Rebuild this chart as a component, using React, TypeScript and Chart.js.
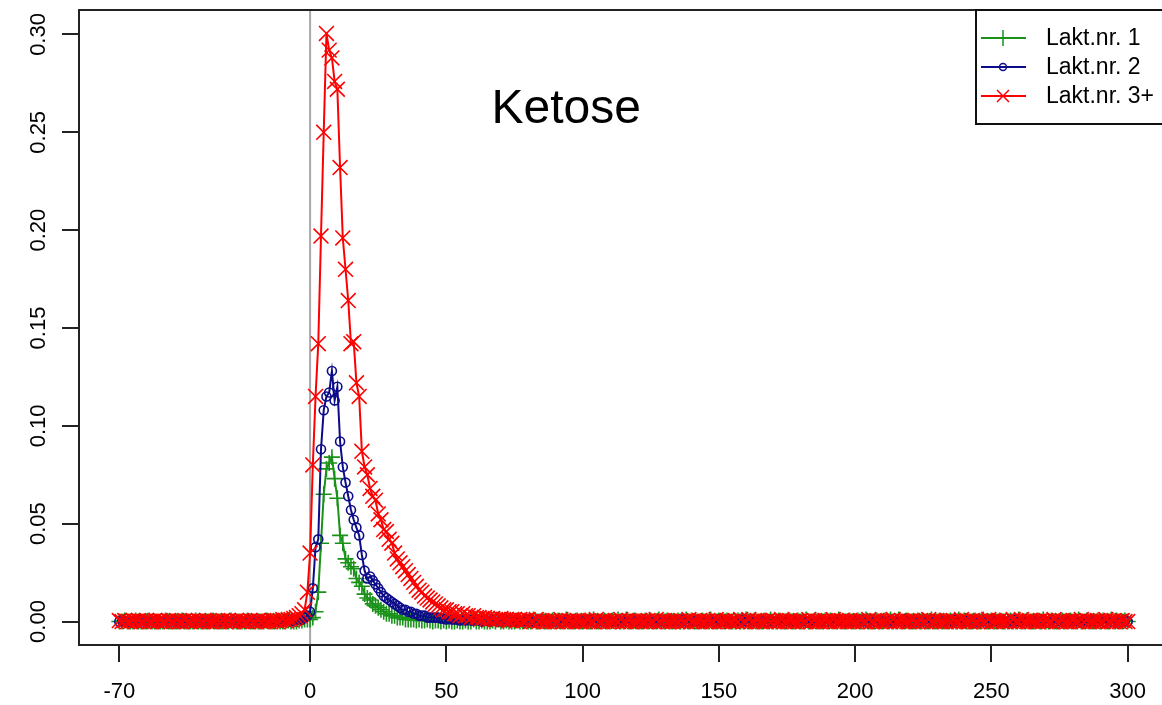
import { useEffect, useRef } from "react";
import { Chart, registerables } from "chart.js";

Chart.register(...registerables);

// ---- data ----
const firstDay = -70; // first day of the series (one value per day)
const xTicks = [-70, 0, 50, 100, 150, 200, 250, 300];
const yTicks = [0, 0.05, 0.1, 0.15, 0.2, 0.25, 0.3];
const seriesLabels = ["Lakt.nr. 1", "Lakt.nr. 2", "Lakt.nr. 3+"];
const titleText = "Ketose";

// Lakt.nr. 1 : days -70..-1, 0..35, 36..300
const lakt1Pre = [
  0, 0, 0.0005, 0, 0, 0, 0.0005, 0, 0, 0, 0, 0.0005, 0, 0, 0, 0, 0, 0.0005, 0, 0,
  0, 0, 0, 0.0005, 0, 0, 0, 0, 0.0005, 0, 0, 0, 0, 0, 0.0005, 0, 0, 0, 0, 0,
  0, 0.0005, 0, 0, 0, 0, 0, 0.0005, 0, 0, 0, 0, 0, 0, 0.0005, 0, 0, 0, 0, 0,
  0, 0, 0.0005, 0, 0, 0, 0.0005, 0.0005, 0.001, 0.001,
];
const lakt1Peak = [
  0.001, 0.002, 0.005, 0.015, 0.04, 0.065, 0.078, 0.081, 0.084, 0.073,
  0.063, 0.044, 0.04, 0.032, 0.03, 0.028, 0.027, 0.022, 0.02, 0.018,
  0.014, 0.012, 0.011, 0.009, 0.008, 0.007, 0.006, 0.005, 0.004, 0.004,
  0.003, 0.003, 0.002, 0.002, 0.002, 0.001,
];
const lakt1Post = [
  0.001, 0.001, 0.001, 0.0005, 0.001, 0.0005, 0.0005, 0.001, 0.0005, 0, 0.0005, 0.0005, 0, 0.0005, 0, 0.0005, 0, 0, 0.0005, 0,
  0, 0.0005, 0, 0, 0.001, 0, 0, 0.0005, 0, 0, 0, 0.0005, 0, 0.001, 0, 0, 0.0005, 0, 0, 0,
  0.0005, 0, 0, 0.0005, 0, 0, 0.001, 0, 0, 0.0005, 0, 0, 0, 0.0005, 0, 0.0005, 0, 0, 0.001, 0,
  0, 0, 0.0005, 0, 0, 0.0005, 0, 0, 0.001, 0, 0, 0, 0.0005, 0, 0, 0.0005, 0, 0.001, 0, 0,
  0.001, 0, 0, 0.0005, 0, 0, 0, 0.0005, 0, 0.0005, 0, 0, 0.001, 0, 0, 0.0005, 0, 0, 0, 0.0005,
  0, 0, 0.001, 0, 0.0005, 0, 0, 0, 0.0005, 0, 0, 0.001, 0, 0, 0.0005, 0, 0, 0.0005, 0, 0,
  0, 0.0005, 0, 0, 0.001, 0, 0, 0.0005, 0, 0, 0, 0.0005, 0, 0.001, 0, 0, 0.0005, 0, 0, 0,
  0.0005, 0, 0, 0.0005, 0, 0, 0.001, 0, 0, 0.0005, 0, 0, 0, 0.0005, 0, 0.0005, 0, 0, 0.001, 0,
  0, 0, 0.0005, 0, 0, 0.0005, 0, 0, 0.001, 0, 0, 0, 0.0005, 0, 0, 0.0005, 0, 0.001, 0, 0,
  0.001, 0, 0, 0.0005, 0, 0, 0, 0.0005, 0, 0.0005, 0, 0, 0.001, 0, 0, 0.0005, 0, 0, 0, 0.0005,
  0, 0, 0.001, 0, 0.0005, 0, 0, 0, 0.0005, 0, 0, 0.001, 0, 0, 0.0005, 0, 0, 0.0005, 0, 0,
  0, 0.0005, 0, 0, 0.001, 0, 0, 0.0005, 0, 0, 0, 0.0005, 0, 0.001, 0, 0, 0.0005, 0, 0, 0,
  0.0005, 0, 0, 0.0005, 0, 0, 0.001, 0, 0, 0.0005, 0, 0, 0, 0.0005, 0, 0.0005, 0, 0, 0.001, 0,
  0.0005, 0, 0, 0.0005, 0,
];

// Lakt.nr. 2 : days -70..-4, -3..45, 46..300
const lakt2Pre = [
  0, 0.0005, 0, 0, 0, 0.0005, 0, 0, 0.001, 0, 0, 0, 0.0005, 0, 0, 0, 0, 0.0005, 0, 0,
  0.0005, 0, 0, 0, 0, 0.001, 0, 0, 0, 0.0005, 0, 0, 0, 0, 0.0005, 0, 0, 0.0005, 0, 0,
  0, 0, 0.0005, 0, 0, 0, 0, 0.001, 0, 0, 0.0005, 0, 0, 0, 0, 0.0005, 0, 0, 0, 0.0005,
  0, 0, 0.0005, 0, 0.0005, 0.001, 0.001,
];
const lakt2Peak = [
  0.001, 0.002, 0.003, 0.005, 0.017, 0.038, 0.042, 0.088, 0.108, 0.115,
  0.117, 0.128, 0.113, 0.12, 0.092, 0.079, 0.071, 0.064, 0.057, 0.052,
  0.048, 0.044, 0.034, 0.026, 0.022, 0.023, 0.021, 0.019, 0.017, 0.015,
  0.013, 0.012, 0.011, 0.01, 0.009, 0.008, 0.007, 0.006, 0.006, 0.005,
  0.005, 0.004, 0.004, 0.003, 0.003, 0.003, 0.002, 0.002, 0.002,
];
const lakt2Post = [
  0.002, 0.002, 0.0015, 0.0015, 0.001, 0.0015, 0.001, 0.001, 0.001, 0.0005, 0.001, 0.0005, 0.001, 0.0005, 0.0005, 0.001, 0.0005, 0, 0.0005, 0.0005,
  0, 0.0005, 0.001, 0, 0.0005, 0, 0.0005, 0, 0.001, 0, 0.0005, 0, 0, 0.0005, 0.001, 0, 0, 0.0005, 0, 0.0005,
  0, 0, 0.0005, 0, 0, 0.0005, 0, 0, 0.001, 0, 0, 0, 0.0005, 0, 0, 0.0005, 0, 0.001, 0, 0,
  0.001, 0, 0, 0.0005, 0, 0, 0, 0.0005, 0, 0.0005, 0, 0, 0.001, 0, 0, 0.0005, 0, 0, 0, 0.0005,
  0, 0, 0.001, 0, 0.0005, 0, 0, 0, 0.0005, 0, 0, 0.001, 0, 0, 0.0005, 0, 0, 0.0005, 0, 0,
  0, 0.0005, 0, 0, 0.001, 0, 0, 0.0005, 0, 0, 0, 0.0005, 0, 0.001, 0, 0, 0.0005, 0, 0, 0,
  0.0005, 0, 0, 0.0005, 0, 0, 0.001, 0, 0, 0.0005, 0, 0, 0, 0.0005, 0, 0.0005, 0, 0, 0.001, 0,
  0, 0, 0.0005, 0, 0, 0.0005, 0, 0, 0.001, 0, 0, 0, 0.0005, 0, 0, 0.0005, 0, 0.001, 0, 0,
  0.001, 0, 0, 0.0005, 0, 0, 0, 0.0005, 0, 0.0005, 0, 0, 0.001, 0, 0, 0.0005, 0, 0, 0, 0.0005,
  0, 0, 0.001, 0, 0.0005, 0, 0, 0, 0.0005, 0, 0, 0.001, 0, 0, 0.0005, 0, 0, 0.0005, 0, 0,
  0, 0.0005, 0, 0, 0.001, 0, 0, 0.0005, 0, 0, 0, 0.0005, 0, 0.001, 0, 0, 0.0005, 0, 0, 0,
  0.0005, 0, 0, 0.0005, 0, 0, 0.001, 0, 0, 0.0005, 0, 0, 0, 0.0005, 0, 0.0005, 0, 0, 0.001, 0,
  0, 0.0005, 0, 0, 0.0005, 0, 0, 0.001, 0, 0, 0.0005, 0, 0, 0.0005, 0,
];

// Lakt.nr. 3+ : days -70..-6, -5..60, 61..300
const lakt3Pre = [
  0.0005, 0, 0.0005, 0, 0, 0.0005, 0, 0.0005, 0, 0, 0.0005, 0, 0, 0.0005, 0, 0.0005, 0, 0, 0.0005, 0,
  0, 0.0005, 0, 0, 0.0005, 0, 0, 0.0005, 0, 0.0005, 0, 0, 0.0005, 0, 0, 0, 0.0005, 0, 0.0005, 0,
  0.0005, 0, 0, 0.0005, 0, 0.0005, 0, 0, 0.0005, 0, 0, 0.0005, 0, 0.0005, 0, 0, 0.0005, 0.0005, 0, 0.0005,
  0.001, 0.0005, 0.001, 0.001, 0.0015,
];
const lakt3Peak = [
  0.002, 0.003, 0.004, 0.006, 0.015, 0.035, 0.08, 0.115, 0.142, 0.197,
  0.25, 0.3005, 0.292, 0.288, 0.276, 0.272, 0.232, 0.196, 0.18, 0.164,
  0.142, 0.143, 0.122, 0.115, 0.087, 0.079, 0.075, 0.068, 0.064, 0.062,
  0.055, 0.052, 0.047, 0.046, 0.042, 0.04, 0.035, 0.032, 0.03, 0.028,
  0.026, 0.024, 0.022, 0.02, 0.018, 0.016, 0.015, 0.013, 0.012, 0.011,
  0.01, 0.009, 0.008, 0.007, 0.006, 0.006, 0.005, 0.005, 0.004, 0.004,
  0.003, 0.004, 0.003, 0.003, 0.002, 0.003,
];
const lakt3Post = [
  0.002, 0.002, 0.0015, 0.002, 0.0015, 0.001, 0.0015, 0.001, 0.001, 0.0015, 0.001, 0.001, 0.0005, 0.001, 0.001, 0.0005, 0.001, 0.0005, 0.0005, 0.001,
  0, 0, 0.001, 0, 0.0005, 0, 0, 0, 0.0005, 0, 0, 0.001, 0, 0, 0.0005, 0, 0, 0.0005, 0, 0,
  0, 0.0005, 0, 0, 0.001, 0, 0, 0.0005, 0, 0, 0, 0.0005, 0, 0.001, 0, 0, 0.0005, 0, 0, 0,
  0.0005, 0, 0, 0.0005, 0, 0, 0.001, 0, 0, 0.0005, 0, 0, 0, 0.0005, 0, 0.0005, 0, 0, 0.001, 0,
  0, 0, 0.0005, 0, 0, 0.0005, 0, 0, 0.001, 0, 0, 0, 0.0005, 0, 0, 0.0005, 0, 0.001, 0, 0,
  0.001, 0, 0, 0.0005, 0, 0, 0, 0.0005, 0, 0.0005, 0, 0, 0.001, 0, 0, 0.0005, 0, 0, 0, 0.0005,
  0, 0, 0.001, 0, 0.0005, 0, 0, 0, 0.0005, 0, 0, 0.001, 0, 0, 0.0005, 0, 0, 0.0005, 0, 0,
  0, 0.0005, 0, 0, 0.001, 0, 0, 0.0005, 0, 0, 0, 0.0005, 0, 0.001, 0, 0, 0.0005, 0, 0, 0,
  0.0005, 0, 0, 0.0005, 0, 0, 0.001, 0, 0, 0.0005, 0, 0, 0, 0.0005, 0, 0.0005, 0, 0, 0.001, 0,
  0, 0, 0.0005, 0, 0, 0.0005, 0, 0, 0.001, 0, 0, 0, 0.0005, 0, 0, 0.0005, 0, 0.001, 0, 0,
  0.001, 0, 0, 0.0005, 0, 0, 0, 0.0005, 0, 0.0005, 0, 0, 0.001, 0, 0, 0.0005, 0, 0, 0, 0.0005,
  0, 0, 0.001, 0, 0.0005, 0, 0, 0, 0.0005, 0, 0, 0.001, 0, 0, 0.0005, 0, 0, 0.0005, 0, 0,
];

const lakt1 = [...lakt1Pre, ...lakt1Peak, ...lakt1Post];
const lakt2 = [...lakt2Pre, ...lakt2Peak, ...lakt2Post];
const lakt3 = [...lakt3Pre, ...lakt3Peak, ...lakt3Post];

// ---- styling ----
const FONT = "'Liberation Sans', Arial, Helvetica, sans-serif";
const COLORS = ["#1a921a", "#0c0c8a", "#ff0000"];
const POINT_STYLES = ["cross", "circle", "crossRot"];
const POINT_RADII = [8, 4.5, 10.5];

export default function App() {
  const ref = useRef<HTMLCanvasElement>(null);

  useEffect(() => {
    const canvas = ref.current;
    if (!canvas) return;

    const series = [lakt1, lakt2, lakt3];
    const datasets = series.map((vals, k) => ({
      label: seriesLabels[k],
      data: vals.map((y, i) => ({ x: firstDay + i, y })),
      borderColor: COLORS[k],
      backgroundColor: "rgba(0,0,0,0)",
      pointBackgroundColor: "rgba(0,0,0,0)",
      pointBorderColor: COLORS[k],
      pointStyle: POINT_STYLES[k],
      pointRadius: POINT_RADII[k],
      pointBorderWidth: 1.6,
      borderWidth: 2,
      tension: 0,
      order: 2 - k,
    }));

    const rPlugin = {
      id: "rstyle",
      beforeDatasetsDraw(chart: any) {
        const { ctx, chartArea: a, scales } = chart;
        const px = scales.x.getPixelForValue(0);
        ctx.save();
        ctx.strokeStyle = "#a8a8a8";
        ctx.lineWidth = 2;
        ctx.beginPath();
        ctx.moveTo(px, a.top);
        ctx.lineTo(px, a.bottom);
        ctx.stroke();
        ctx.restore();
      },
      afterDraw(chart: any) {
        const { ctx, chartArea: a, scales } = chart;
        ctx.save();
        // frame
        ctx.strokeStyle = "#222";
        ctx.lineWidth = 2;
        ctx.strokeRect(a.left, a.top, a.right - a.left, a.bottom - a.top);

        // title text inside the plot
        ctx.fillStyle = "#000";
        ctx.font = `48px ${FONT}`;
        ctx.textAlign = "center";
        ctx.textBaseline = "alphabetic";
        ctx.fillText(titleText, scales.x.getPixelForValue(94), scales.y.getPixelForValue(0.255));

        // legend (top right)
        const lw = 192;
        const lh = 114;
        const lx = a.right - lw;
        const ly = a.top;
        ctx.fillStyle = "#fff";
        ctx.fillRect(lx, ly, lw, lh);
        ctx.strokeStyle = "#111";
        ctx.lineWidth = 2;
        ctx.strokeRect(lx, ly, lw, lh);
        ctx.font = `23px ${FONT}`;
        ctx.textAlign = "left";
        ctx.textBaseline = "middle";
        chart.data.datasets.forEach((ds: any, k: number) => {
          const y = ly + 28 + k * 29;
          ctx.strokeStyle = ds.borderColor;
          ctx.lineWidth = 2;
          ctx.beginPath();
          ctx.moveTo(lx + 5, y);
          ctx.lineTo(lx + 50, y);
          ctx.stroke();
          ctx.lineWidth = 1.5;
          const cx = lx + 27;
          ctx.beginPath();
          if (ds.pointStyle === "cross") {
            ctx.moveTo(cx, y - 8);
            ctx.lineTo(cx, y + 8);
            ctx.moveTo(cx - 8, y);
            ctx.lineTo(cx + 8, y);
          } else if (ds.pointStyle === "circle") {
            ctx.arc(cx, y, 3.5, 0, Math.PI * 2);
          } else {
            ctx.moveTo(cx - 6, y - 6);
            ctx.lineTo(cx + 6, y + 6);
            ctx.moveTo(cx - 6, y + 6);
            ctx.lineTo(cx + 6, y - 6);
          }
          ctx.stroke();
          ctx.fillStyle = "#000";
          ctx.fillText(ds.label, lx + 70, y + 1);
        });
        ctx.restore();
      },
    };

    const chart = new Chart(canvas, {
      type: "line",
      data: { datasets },
      options: {
        animation: false,
        responsive: false,
        maintainAspectRatio: false,
        layout: { autoPadding: false, padding: { top: 10, right: 0, bottom: 0, left: 0 } },
        plugins: { legend: { display: false }, tooltip: { enabled: false }, title: { display: false } },
        scales: {
          x: {
            type: "linear",
            min: -84.8,
            max: 314.8,
            afterBuildTicks: (s: any) => {
              s.ticks = xTicks.map((v) => ({ value: v }));
            },
            afterFit: (s: any) => {
              s.height = 60;
              s.paddingLeft = 0;
              s.paddingRight = 0;
            },
            grid: { display: true, drawOnChartArea: false, drawTicks: true, tickLength: 17, color: "#222", lineWidth: 2 },
            border: { display: false },
            ticks: {
              autoSkip: false,
              maxRotation: 0,
              minRotation: 0,
              padding: 17,
              color: "#000",
              font: { family: FONT, size: 22 },
              callback: (v: any) => String(v),
            },
          },
          y: {
            type: "linear",
            min: -0.012,
            max: 0.3125,
            afterBuildTicks: (s: any) => {
              s.ticks = yTicks.map((v) => ({ value: v }));
            },
            afterFit: (s: any) => {
              s.width = 79;
              s.paddingTop = 0;
              s.paddingBottom = 0;
            },
            grid: { display: true, drawOnChartArea: false, drawTicks: true, tickLength: 17, color: "#222", lineWidth: 2 },
            border: { display: false },
            ticks: {
              autoSkip: false,
              minRotation: 90,
              maxRotation: 90,
              crossAlign: "center",
              padding: 2,
              color: "#000",
              font: { family: FONT, size: 22 },
              callback: (v: any) => Number(v).toFixed(2),
            },
          },
        },
      },
      plugins: [rPlugin],
    } as any);

    return () => chart.destroy();
  }, []);

  return (
    <div
      style={{
        position: "fixed",
        left: 0,
        top: 0,
        width: 1162,
        height: 705,
        overflow: "hidden",
        background: "#fff",
      }}
    >
      <canvas ref={ref} width={1168} height={705} style={{ display: "block", width: 1168, height: 705 }} />
    </div>
  );
}
